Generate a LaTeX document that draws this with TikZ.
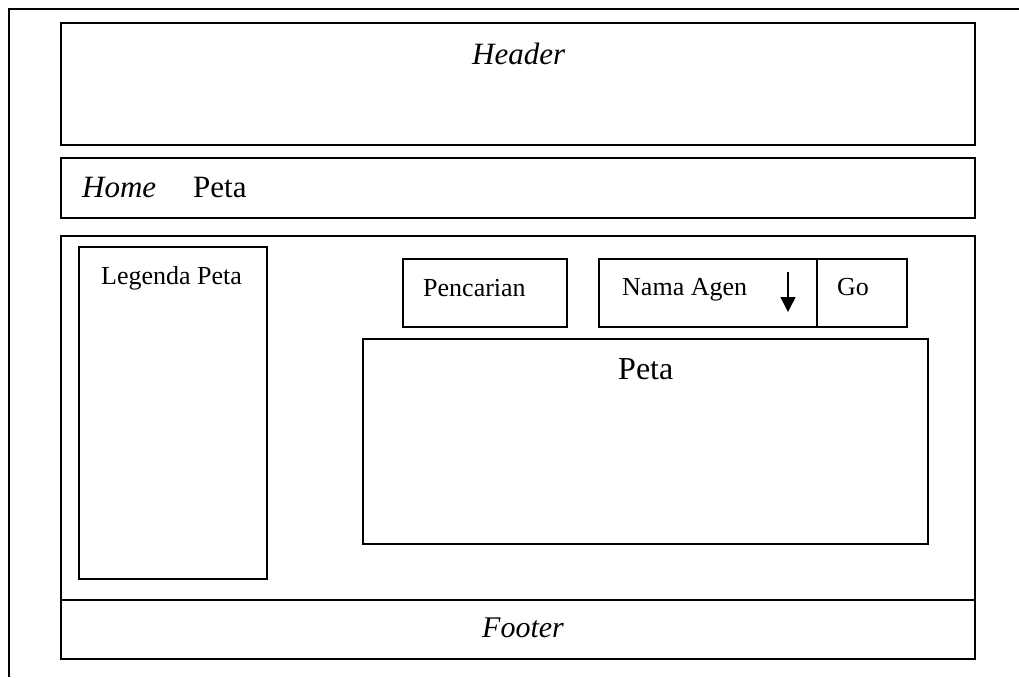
\documentclass[tikz,border=0pt]{standalone}
\usepackage{fontspec}
\setmainfont{Liberation Serif}
\usetikzlibrary{arrows.meta}
\tikzset{
  frame/.style={draw=black, line width=1.4pt},
  small/.style={inner sep=0pt, anchor=base west, font=\fontsize{26}{30}\selectfont},
  big/.style={inner sep=0pt, anchor=base west, font=\fontsize{31}{36}\selectfont},
}
\begin{document}
\begin{tikzpicture}[x=1pt,y=-1pt]
\useasboundingbox (0,0) rectangle (1019,677);
% outer frame
\draw[frame] (1019,9) -- (9,9) -- (9,677);
% header
\draw[frame] (61,23) rectangle (975,145);
\node[big, font=\fontsize{31}{36}\selectfont\itshape] (header) at (472,64) {Header};
% nav
\draw[frame] (61,158) rectangle (975,218);
\node[big, font=\fontsize{31}{36}\selectfont\itshape] (home) at (82,197) {Home};
\node[big] (navpeta) at (193,197) {Peta};
% main
\draw[frame] (61,236) rectangle (975,600);
% footer
\draw[frame] (61,600) rectangle (975,659);
\node[big, font=\fontsize{30}{35}\selectfont\itshape] (footer) at (482,637) {Footer};
% legenda
\draw[frame] (79,247) rectangle (267,579);
\node[small] (legenda) at (101,284) {Legenda Peta};
% pencarian
\draw[frame] (403,259) rectangle (567,327);
\node[small] (pencarian) at (423,296) {Pencarian};
% nama agen + go
\draw[frame] (599,259) rectangle (907,327);
\draw[frame] (817,259) -- (817,327);
\node[small] (nama) at (622,295) {Nama Agen};
\node[small] (go) at (837,295) {Go};
\coordinate (atop) at (788,272);
\coordinate (abot) at (788,312);
\draw[line width=1.4pt, -{Triangle[width=15pt,length=15pt]}] (atop) -- (abot);
% peta
\draw[frame] (363,339) rectangle (928,544);
\node[big, font=\fontsize{32}{37}\selectfont] (peta) at (618,379) {Peta};
\end{tikzpicture}
\end{document}
